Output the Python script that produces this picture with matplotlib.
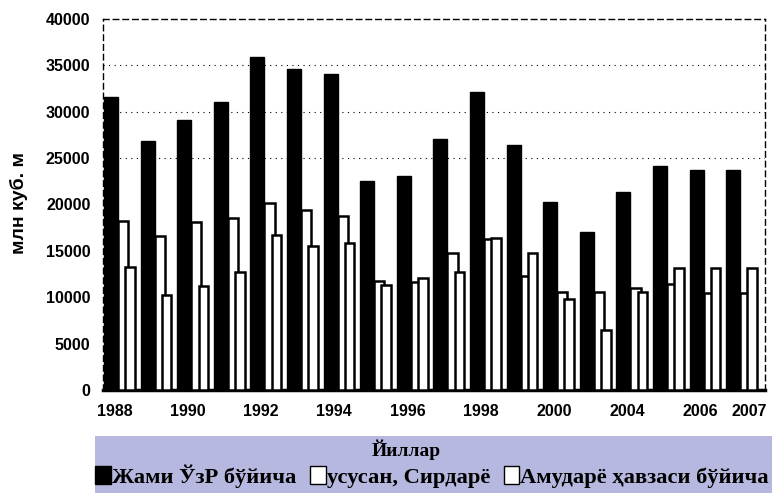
import matplotlib
matplotlib.use("Agg")
import matplotlib.pyplot as plt
from matplotlib.patches import Rectangle
import numpy as np

years = [1988, 1989, 1990, 1991, 1992, 1993, 1994, 1995, 1996, 1997, 1998,
         1999, 2000, 2003, 2004, 2005, 2006, 2007]
tick_labels = ["1988", "", "1990", "", "1992", "", "1994", "", "1996", "",
               "1998", "", "2000", "", "2004", "", "2006", "2007"]
total_uz = [31600, 26800, 29100, 31100, 35900, 34600, 34100, 22500, 23100,
            27100, 32100, 26400, 20300, 17000, 21400, 24200, 23700, 23700]
syrdarya = [18200, 16600, 18100, 18500, 20200, 19400, 18800, 11700, 11600,
            14800, 16300, 12300, 10600, 10600, 11000, 11400, 10500, 10500]
amudarya = [13300, 10200, 11200, 12700, 16700, 15500, 15900, 11300, 12100,
            12700, 16400, 14800, 9800, 6500, 10600, 13200, 13100, 13100]

series_labels = ["Жами ЎзР бўйича", "усусан, Сирдарё", "Амударё ҳавзаси бўйича"]
y_label = "млн куб. м"
x_title = "Йиллар"

fig = plt.figure(figsize=(7.72, 4.93), dpi=100)
ax = fig.add_axes([103/772, 1 - 390/493, (765-103)/772, (390-19)/493])

x = np.arange(len(years))
b1 = ax.bar(x, total_uz, width=0.38, color="black", edgecolor="black", linewidth=1.0,
            label=series_labels[0], zorder=3)
b2 = ax.bar(x + 0.33, syrdarya, width=0.28, color="white", edgecolor="black", linewidth=1.8,
            label=series_labels[1], zorder=3)
b3 = ax.bar(x + 0.52, amudarya, width=0.26, color="white", edgecolor="black", linewidth=1.8,
            label=series_labels[2], zorder=4)

ax.set_xlim(-0.22, 17.87)
ax.set_ylim(0, 40000)
ax.set_yticks(np.arange(0, 40001, 5000))
ax.set_yticklabels([str(v) for v in range(0, 40001, 5000)],
                   fontsize=11.5, fontweight="bold", family="Liberation Sans")
tick_pos = x + 0.1
tick_pos[-1] = x[-1] + 0.45
ax.set_xticks(tick_pos)
ax.set_xticklabels(tick_labels, fontsize=11.5, fontweight="bold", family="Liberation Sans")
ax.tick_params(axis="both", length=0, pad=9)
ax.tick_params(axis="x", pad=10)

for y in [25000, 30000, 35000]:
    ax.axhline(y, color="black", linestyle=(0, (1, 4)), linewidth=0.8, zorder=1)

for side in ["left", "right", "top"]:
    ax.spines[side].set_linestyle((0, (4, 3)))
    ax.spines[side].set_linewidth(1.0)
ax.spines["bottom"].set_linewidth(2.5)

fig.text(19/772, 1 - 203/493, y_label, rotation=90, ha="center", va="center",
         fontsize=14, fontweight="bold", family="Liberation Sans")

band = Rectangle((95/772, 0), 1 - 95/772, (493-436)/493, transform=fig.transFigure,
                 facecolor="#b7b8e0", edgecolor="none", zorder=0)
fig.patches.append(band)

fig.text(406/772, 1 - 450/493, x_title, ha="center", va="center",
         fontsize=14, fontweight="bold", family="Liberation Serif")

leg = fig.legend(handles=[b1, b2, b3], labels=series_labels, ncol=3,
                 loc="center", bbox_to_anchor=(432/772, 1 - 476/493),
                 frameon=False, handlelength=0.7, handleheight=0.8,
                 handletextpad=0.05, columnspacing=0.6, borderaxespad=0,
                 prop={"family": "Liberation Serif", "weight": "bold", "size": 16.2})
for h in leg.legend_handles:
    h.set_linewidth(1.0)

fig.savefig("out.png", dpi=100)
